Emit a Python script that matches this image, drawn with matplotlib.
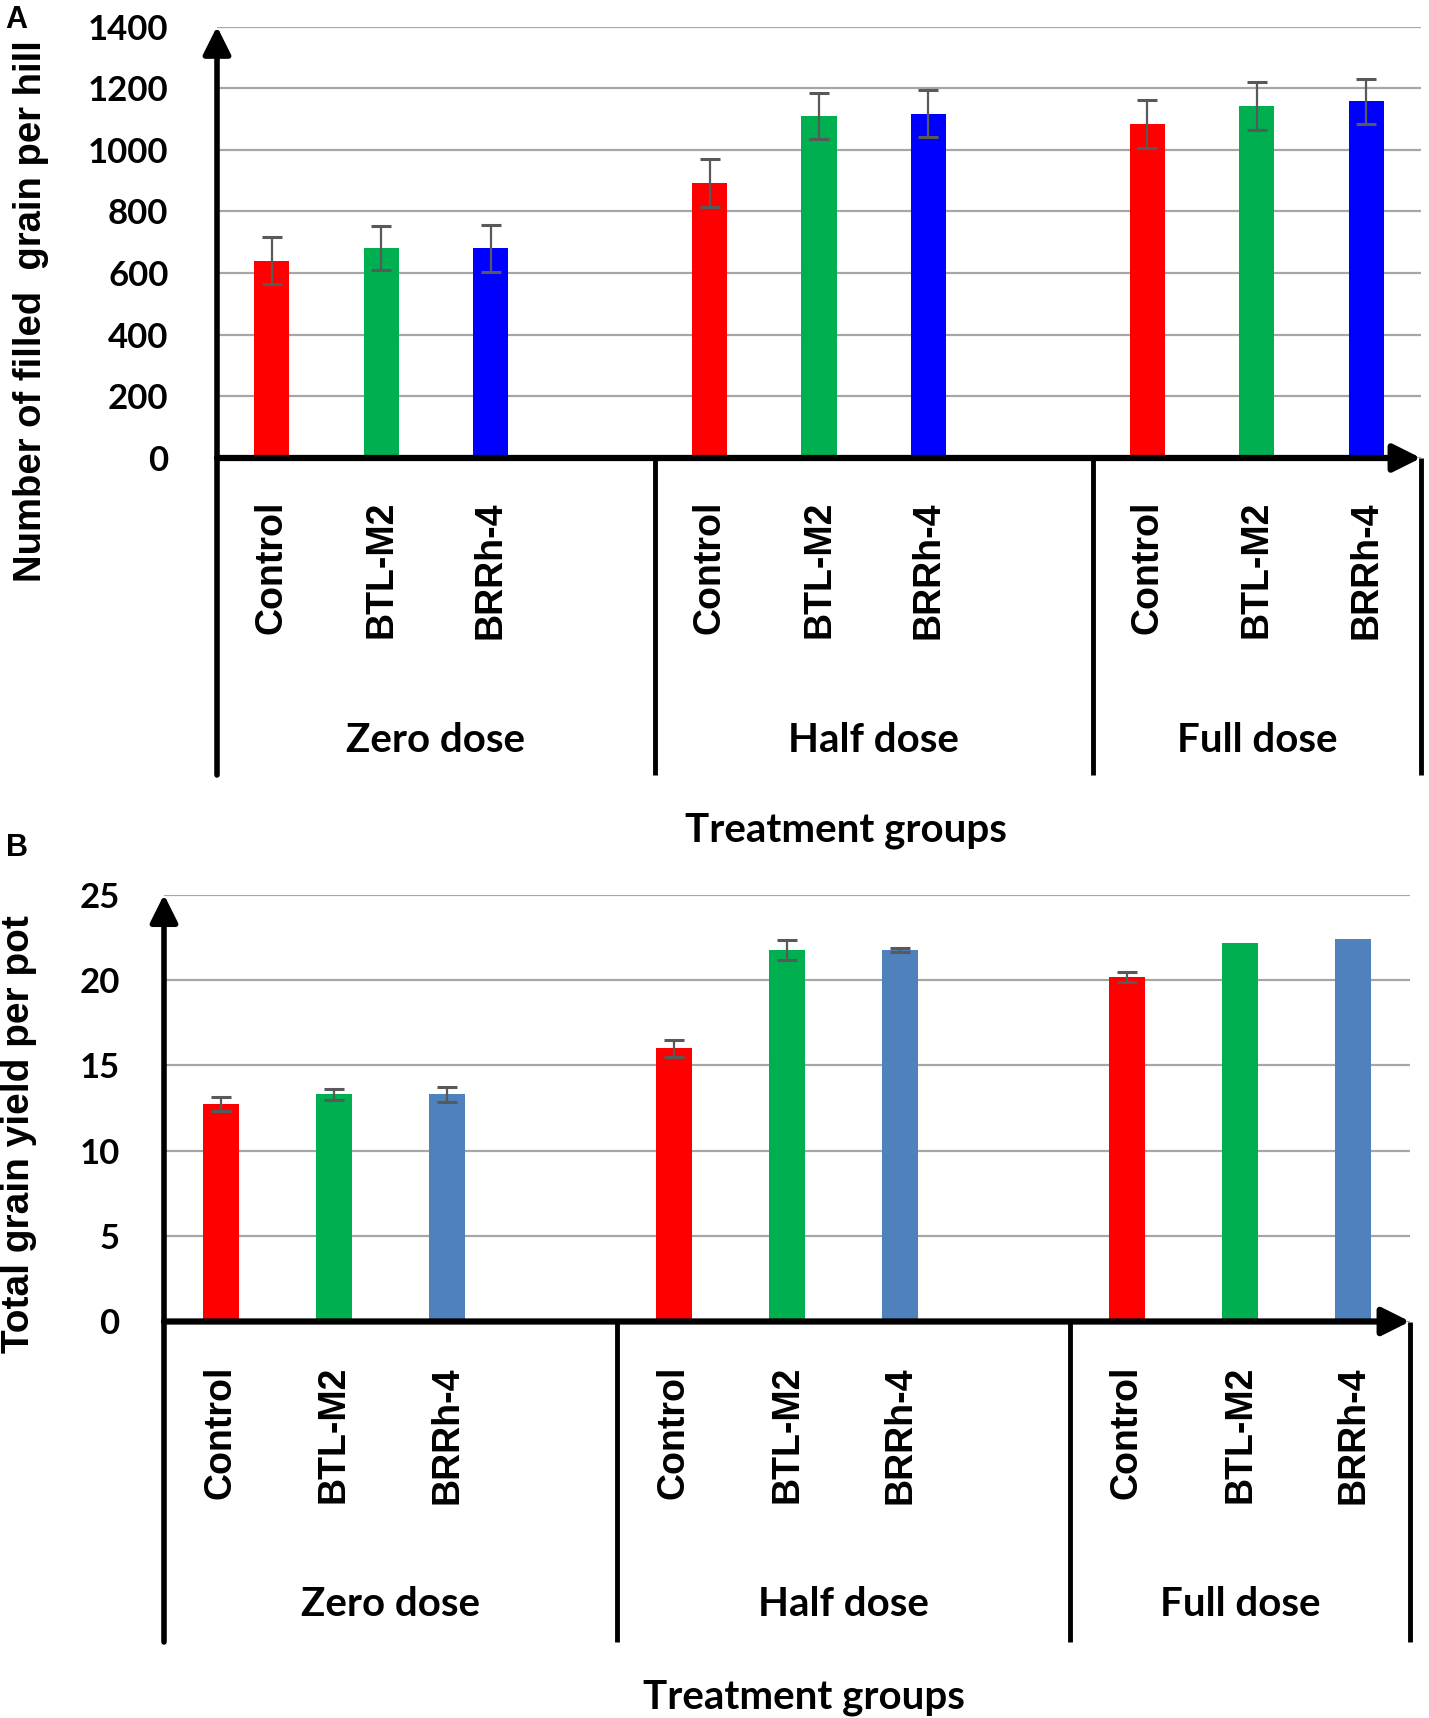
import matplotlib
matplotlib.use("Agg")
import matplotlib.pyplot as plt

# ---------------- data ----------------
groups = ["Zero dose", "Half dose", "Full dose"]
strains = ["Control", "BTL-M2", "BRRh-4"]

# Panel A: number of filled grain per hill (rows = groups, cols = strains)
grain_zero = [640, 681, 681]
grain_half = [892, 1110, 1117]
grain_full = [1084, 1142, 1157]
grain_err_zero = [76, 72, 76]
grain_err_half = [77, 74, 77]
grain_err_full = [78, 78, 74]

# Panel B: total grain yield per pot
yield_zero = [12.75, 13.3, 13.3]
yield_half = [16.0, 21.75, 21.75]
yield_full = [20.2, 22.15, 22.4]
yield_err_zero = [0.4, 0.3, 0.45]
yield_err_half = [0.5, 0.6, 0.1]
yield_err_full = [0.3, 0.0, 0.0]

colors_A = ["#FF0000", "#00B050", "#0000FF"]
colors_B = ["#FF0000", "#00B050", "#4F81BD"]

W, H = 1429, 1718
fig = plt.figure(figsize=(W / 100, H / 100), dpi=100)

TICK_FONT = dict(family=["Lato", "DejaVu Sans"], weight="bold")
CAT_FONT = dict(family=["Liberation Sans", "DejaVu Sans"], weight="bold")


def px_axes(left, right, top, bottom):
    return fig.add_axes([left / W, 1 - bottom / H, (right - left) / W, (bottom - top) / H])


def draw_panel(ax, vals, errs, colors, ymax, ystep, frame_bottom, label_pad_pt, ytick_pad):
    positions = []
    names = []
    for g in range(3):
        for i in range(3):
            x = g * 4 + i + 0.5
            positions.append(x)
            names.append(strains[i])
            ax.bar(x, vals[g][i], width=0.32, color=colors[i], zorder=2)
            if errs[g][i] > 0:
                ax.errorbar(x, vals[g][i], yerr=errs[g][i], fmt="none", ecolor="#595959",
                            elinewidth=1.6, capsize=7, capthick=2.2, zorder=3)
    ax.set_xlim(0, 11)
    ax.set_ylim(0, ymax)
    ax.set_yticks(range(0, ymax + 1, ystep))
    ax.yaxis.grid(True, color="#a6a6a6", lw=1.6)
    ax.set_axisbelow(True)
    for s in ax.spines.values():
        s.set_visible(False)
    ax.tick_params(axis="y", length=0, pad=ytick_pad, labelsize=25)
    for lab in ax.get_yticklabels():
        lab.set_fontfamily(TICK_FONT["family"])
        lab.set_fontweight("bold")
    ax.set_xticks(positions)
    ax.set_xticklabels(names, rotation=90, fontsize=27, fontweight="bold",
                       fontfamily=CAT_FONT["family"])
    ax.tick_params(axis="x", length=0, pad=label_pad_pt)

    tr = ax.get_xaxis_transform()
    # x axis with arrow
    ax.annotate("", xy=(1.0, 0), xytext=(0, 0), xycoords="axes fraction",
                arrowprops=dict(arrowstyle="-|>", lw=4.5, color="black",
                                mutation_scale=42, shrinkA=0, shrinkB=0), zorder=5)
    # y axis with arrow (extends down through the category box)
    ax.annotate("", xy=(0, 1.0), xytext=(0, frame_bottom), xycoords="axes fraction",
                arrowprops=dict(arrowstyle="-|>", lw=4.0, color="black",
                                mutation_scale=42, shrinkA=0, shrinkB=0), zorder=5)
    # group separators / right frame
    for xs in (4, 8, 11):
        ax.plot([xs, xs], [0, frame_bottom], transform=tr, color="black", lw=3.5,
                clip_on=False, solid_capstyle="butt", zorder=5)


# ---------------- Panel A ----------------
axA = px_axes(217, 1421, 26.5, 458)
fbA = (458 - 775) / (458 - 26.5)
draw_panel(axA, [grain_zero, grain_half, grain_full],
           [grain_err_zero, grain_err_half, grain_err_full],
           colors_A, 1400, 200, fbA, 31, 35)
for g, cx in zip(groups, (2, 6, 9.5)):
    axA.text(cx, (458 - 740) / (458 - 26.5), g, transform=axA.get_xaxis_transform(),
             ha="center", va="center", fontsize=29, **TICK_FONT)
fig.text(31 / W, 1 - 311 / H, "Number of filled  grain per hill", rotation=90,
         ha="center", va="center", fontsize=27.5, **CAT_FONT)
fig.text(846 / W, 1 - 830 / H, "Treatment groups", ha="center", va="center",
         fontsize=29, **TICK_FONT)
fig.text(16.5 / W, 1 - 20 / H, "A", ha="center", va="center", fontsize=22, **CAT_FONT)

# ---------------- Panel B ----------------
axB = px_axes(164, 1410, 894.7, 1321.5)
fbB = (1321.5 - 1642) / (1321.5 - 894.7)
draw_panel(axB, [yield_zero, yield_half, yield_full],
           [yield_err_zero, yield_err_half, yield_err_full],
           colors_B, 25, 5, fbB, 32, 32)
for g, cx in zip(groups, (2, 6, 9.5)):
    axB.text(cx, (1321.5 - 1605) / (1321.5 - 894.7), g, transform=axB.get_xaxis_transform(),
             ha="center", va="center", fontsize=29, **TICK_FONT)
fig.text(19 / W, 1 - 1134 / H, "Total grain yield per pot", rotation=90,
         ha="center", va="center", fontsize=28, **CAT_FONT)
fig.text(804 / W, 1 - 1698 / H, "Treatment groups", ha="center", va="center",
         fontsize=29, **TICK_FONT)
fig.text(17 / W, 1 - 848 / H, "B", ha="center", va="center", fontsize=22, **CAT_FONT)

fig.savefig("out.png", dpi=100, facecolor="white")
